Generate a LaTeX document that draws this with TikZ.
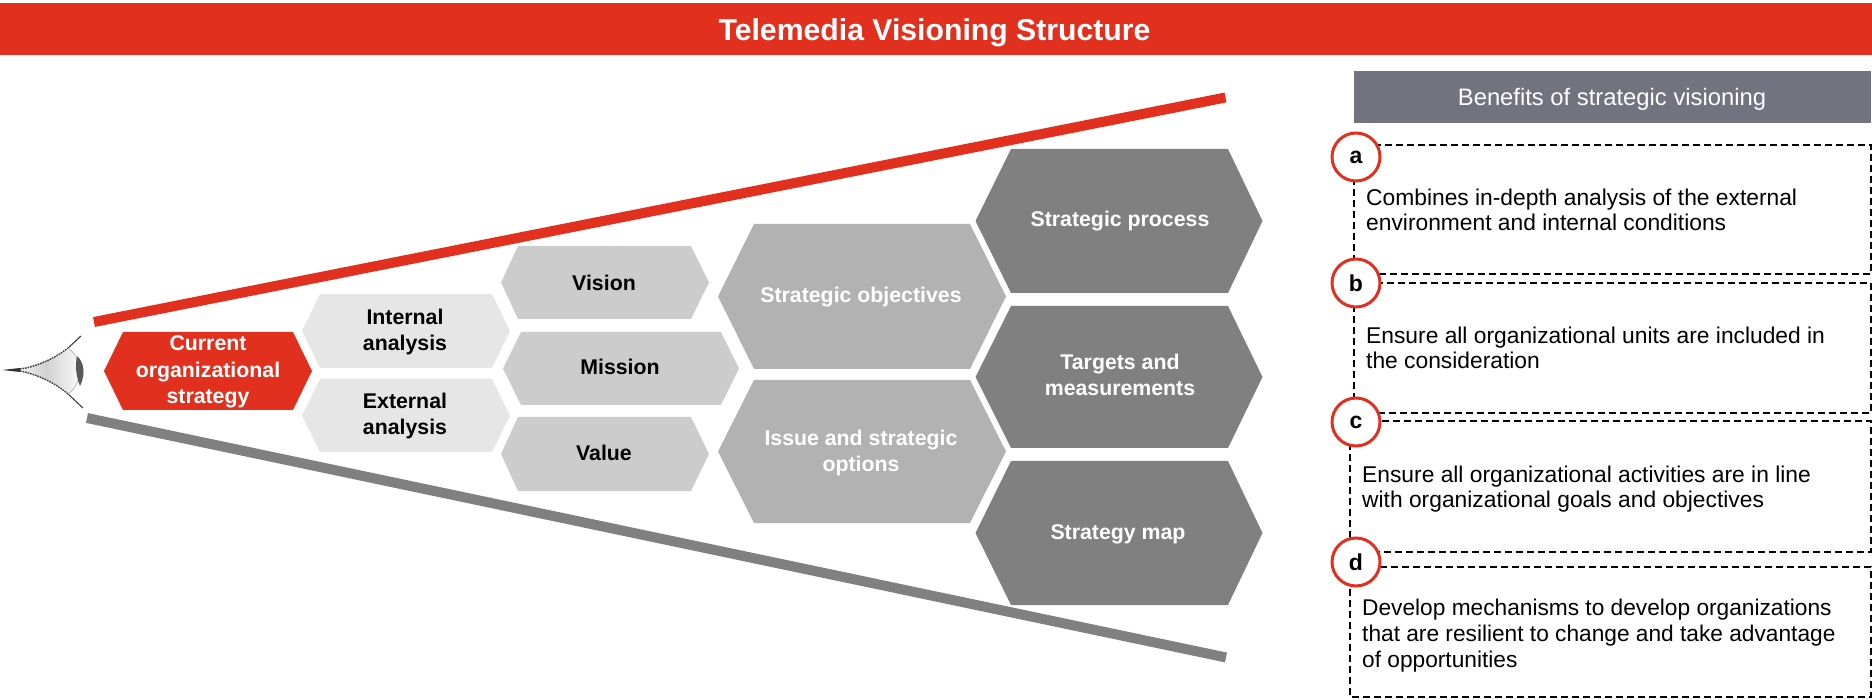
\documentclass[tikz,border=0pt]{standalone}
\usepackage{fontspec}
\setmainfont{Liberation Sans}
\usetikzlibrary{shadings}
\definecolor{tred}{HTML}{E1301E}
\definecolor{hexa}{HTML}{E6E6E6}
\definecolor{hexb}{HTML}{CCCCCC}
\definecolor{hexc}{HTML}{B2B2B2}
\definecolor{hexd}{HTML}{808080}
\definecolor{hdrgray}{HTML}{737380}
\newcommand{\hexshape}[7]{%
  \fill[#7] (#1,{(#5+#6)/2}) -- (#2,#5) -- (#3,#5) -- (#4,{(#5+#6)/2}) -- (#3,#6) -- (#2,#6) -- cycle;}
\tikzset{
  lbl/.style={font=\fontsize{21.3}{26.3}\selectfont\bfseries, align=center, inner sep=0pt},
  lblw/.style={lbl, text=white},
  lblk/.style={lbl, text=black},
  bodytxt/.style={font=\fontsize{22.8}{24.5}\selectfont, align=left, anchor=west, inner sep=0pt, text=black},
  dashbox/.style={draw=black, line width=1.8pt, dash pattern=on 7pt off 4pt},
  badge/.style={circle, draw=tred, line width=3pt, fill=white, minimum size=48pt, inner sep=0pt, font=\fontsize{23}{26}\selectfont\bfseries},
  wedge/.style={line width=10pt},
}
\begin{document}
\begin{tikzpicture}[x=1pt,y=-1pt]
\useasboundingbox (0,0) rectangle (1872,700);
% title bar
\fill[tred] (0,3) rectangle (1872,55);
\node[font=\fontsize{30.2}{34}\selectfont\bfseries, text=white, inner sep=0pt] (title) at (934.5,33) {Telemedia Visioning Structure};
% wedge lines
\coordinate (redA) at (94,322);
\coordinate (redB) at (1225.5,97.5);
\coordinate (grayA) at (87,418);
\coordinate (grayB) at (1226,657.5);
\draw[wedge, tred] (redA) -- (redB);
\draw[wedge, hexd] (grayA) -- (grayB);
% eye
\begin{scope}
  \clip (8,370) .. controls (30,367) and (52,360) .. (68,348) .. controls (80,358) and (80,382) .. (68,394) .. controls (52,380) and (30,373) .. (8,370) -- cycle;
  \shade[left color=white, right color=white, middle color=black!18] (8,340) rectangle (84,400);
\end{scope}
\draw[black!75, line width=1.4pt, dash pattern=on 1.6pt off 1pt] (20,369) .. controls (36,367) and (54,359) .. (68,348);
\draw[black!75, line width=1.4pt, dash pattern=on 1.6pt off 1pt] (20,371) .. controls (36,374) and (54,382) .. (68,394);
\fill[black!80] (2,370) -- (20,368) -- (20,372) -- cycle;
\draw[black!80, line width=1pt] (68,348) -- (81,336);
\draw[black!80, line width=1pt] (68,394) -- (83,408);
\draw[black!25, line width=1pt] (68,348) .. controls (74,352) and (77,358) .. (78,362);
\draw[black!25, line width=1pt] (68,394) .. controls (74,390) and (77,384) .. (78,380);
\fill[black!65] (77,356) .. controls (84,362) and (86,374) .. (80,386) .. controls (76,376) and (75,366) .. (77,356) -- cycle;
% hexagons
\hexshape{104}{123}{293}{312}{332}{410}{tred}
\hexshape{302}{320}{492}{510}{294}{368}{hexa}
\hexshape{302}{320}{492}{510}{379}{452}{hexa}
\hexshape{501}{518}{691}{709}{246}{319}{hexb}
\hexshape{503}{521}{721}{739}{332}{405}{hexb}
\hexshape{501}{518}{691}{709}{417}{491}{hexb}
\hexshape{718}{754}{970}{1006}{224}{369}{hexc}
\hexshape{718}{754}{970}{1006}{380}{523}{hexc}
\hexshape{975.5}{1011}{1228}{1262.5}{149}{293}{hexd}
\hexshape{975.5}{1011}{1228}{1262.5}{306}{448}{hexd}
\hexshape{975.5}{1011}{1228}{1262.5}{461}{605}{hexd}
% hexagon labels
\node[lblw] (cur) at (208,372) {Current\\organizational\\strategy};
\node[lblk] (int) at (405,332) {Internal\\analysis};
\node[lblk] (ext) at (405,416) {External\\analysis};
\node[lblk] (vis) at (604,283) {Vision};
\node[lblk] (mis) at (620,367) {Mission};
\node[lblw] (obj) at (861,297) {Strategic objectives};
\node[lblk] (val) at (604,453) {Value};
\node[lblw] (iss) at (861,453) {Issue and strategic\\options};
\node[lblw] (pro) at (1120,221) {Strategic process};
\node[lblw] (tar) at (1120,375) {Targets and\\measurements};
\node[lblw] (map) at (1118,534) {Strategy map};
% right panel
\fill[hdrgray] (1354,71) rectangle (1871,123);
\node[font=\fontsize{23.8}{28}\selectfont, text=white, inner sep=0pt] (hdr) at (1612,99) {Benefits of strategic visioning};
\draw[dashbox] (1354,145) rectangle (1871,274);
\draw[dashbox] (1354,283) rectangle (1871,413);
\draw[dashbox] (1350,421) rectangle (1871,552);
\draw[dashbox] (1350,567) rectangle (1871,697);
\node[badge] (a) at (1356,157) {a};
\node[badge] (b) at (1356,283) {b};
\node[badge] (c) at (1356,422) {c};
\node[badge] (d) at (1356,562) {d};
\node[bodytxt] (ta) at (1366,210) {Combines in-depth analysis of the external\\environment and internal conditions};
\node[bodytxt] (tb) at (1366,348) {Ensure all organizational units are included in\\the consideration};
\node[bodytxt] (tc) at (1362,489) {Ensure all organizational activities are in line\\with organizational goals and objectives};
\node[bodytxt, font=\fontsize{22.7}{26}\selectfont] (td) at (1362,636) {Develop mechanisms to develop organizations\\that are resilient to change and take advantage\\of opportunities};
\end{tikzpicture}
\end{document}
